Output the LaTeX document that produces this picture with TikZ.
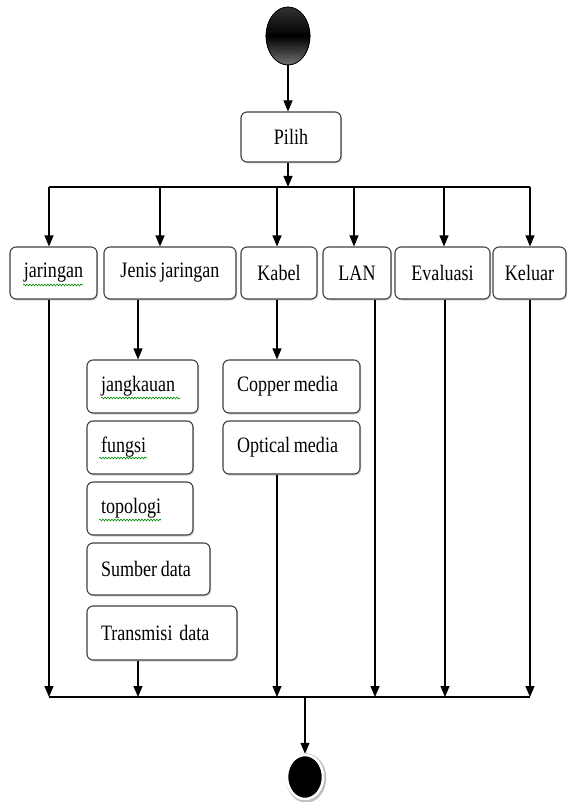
\documentclass[tikz,border=0pt]{standalone}
\usepackage{fontspec}
\setmainfont{Liberation Serif}[FakeStretch=0.82, WordSpace=0.85]
\usetikzlibrary{arrows.meta,shapes.geometric,shadows,decorations.pathmorphing}
\newcommand\lefttext[2]{\makebox[#1][l]{#2}}
\begin{document}
\begin{tikzpicture}[x=1pt,y=-1pt,
  font=\fontsize{22}{26}\selectfont,
  box/.style={draw=black!75, line width=1.1pt, rounded corners=6pt, fill=white,
    drop shadow={opacity=0.35, shadow xshift=1.2pt, shadow yshift=-1.5pt},
    inner sep=0pt, minimum height=52pt},
  lbox/.style={box, inner xsep=14pt},
  conn/.style={draw=black, line width=1.1pt},
  arr/.style={conn, -{Triangle[length=11pt,width=9pt]}},
  squig/.style={draw=green!55!black, line width=0.6pt,
    decorate, decoration={snake, amplitude=0.9pt, segment length=3pt}}]
\useasboundingbox (0,0) rectangle (570,802);

% start / end
\shade[top color=black!80, bottom color=black!55, middle color=black, draw=black, line width=0.6pt]
  (288,36) ellipse [x radius=22pt, y radius=29pt];
\node[ellipse, draw=black, line width=0.6pt, minimum width=44pt, minimum height=58pt] (start) at (288,36) {};
\node[ellipse, fill=black, draw=white, line width=2.5pt, minimum width=36pt, minimum height=44pt,
  drop shadow={fill=black!25, opacity=1, shadow xshift=1pt, shadow yshift=-1pt, shadow scale=1.12}] (end) at (305,777) {};

% main boxes
\node[box, minimum width=100pt, minimum height=50pt] (pilih) at (291,137) {Pilih};
\node[box, minimum width=87pt]  (jaringan) at (53.5,273) {jaringan};
\node[box, minimum width=132pt] (jenis)    at (170,273)  {Jenis jaringan};
\node[box, minimum width=76pt]  (kabel)    at (279,273)  {Kabel};
\node[box, minimum width=68pt]  (lan)      at (357,273)  {LAN};
\node[box, minimum width=95pt]  (eval)     at (442.5,273) {Evaluasi};
\node[box, minimum width=73pt]  (keluar)   at (529.5,273) {Keluar};

% sub boxes
\node[lbox, minimum height=53pt]  (jangk)  at (142.5,386.5) {\lefttext{83pt}{jangkauan}};
\node[lbox, minimum height=53pt]  (fungsi) at (140,447.5)   {\lefttext{78pt}{fungsi}};
\node[lbox, minimum height=53pt]  (topo)   at (140,508.5)   {\lefttext{78pt}{topologi}};
\node[lbox]                       (sumber) at (148.5,569)   {\lefttext{95pt}{Sumber data}};
\node[lbox, minimum height=54pt]  (trans)  at (162,633)     {\lefttext{122pt}{Transmisi\hspace{3pt} data}};
\node[lbox, minimum height=53pt]  (copper) at (291.5,386.5) {\lefttext{109pt}{Copper media}};
\node[lbox, minimum height=53pt]  (optical) at (291.5,447.5) {\lefttext{109pt}{Optical media}};

% spell-check squiggles
\draw[squig] (23,285) -- (83,285);
\draw[squig] (101,398) -- (180,398);
\draw[squig] (99,458) -- (147,458);
\draw[squig] (99,520) -- (161,520);

% fork coordinates
\coordinate (s0) at (288,187);
\coordinate (t1) at (49,187);
\coordinate (t2) at (160,187);
\coordinate (t3) at (277,187);
\coordinate (t4) at (354,187);
\coordinate (t5) at (444,187);
\coordinate (t6) at (530,187);
\coordinate (b1) at (49,697);
\coordinate (b2) at (138,697);
\coordinate (b3) at (277,697);
\coordinate (b4) at (375,697);
\coordinate (b5) at (445,697);
\coordinate (b6) at (530,697);
\coordinate (bm) at (305,697);

% top connectors
\draw[arr] (start.south) -- (start.south |- pilih.north);
\draw[arr] (start.south |- pilih.south) -- (s0);
\draw[conn] (t1) -- (t6);
\draw[arr] (t1) -- (t1 |- jaringan.north);
\draw[arr] (t2) -- (t2 |- jenis.north);
\draw[arr] (t3) -- (t3 |- kabel.north);
\draw[arr] (t4) -- (t4 |- lan.north);
\draw[arr] (t5) -- (t5 |- eval.north);
\draw[arr] (t6) -- (t6 |- keluar.north);

% middle connectors
\draw[arr] (b2 |- jenis.south) -- (b2 |- jangk.north);
\draw[arr] (b3 |- kabel.south) -- (b3 |- copper.north);

% bottom connectors
\draw[arr] (b1 |- jaringan.south) -- (b1);
\draw[arr] (b2 |- trans.south) -- (b2);
\draw[arr] (b3 |- optical.south) -- (b3);
\draw[arr] (b4 |- lan.south) -- (b4);
\draw[arr] (b5 |- eval.south) -- (b5);
\draw[arr] (b6 |- keluar.south) -- (b6);
\draw[conn] (b1) -- (b6);
\draw[arr] (bm) -- (end.north);
\end{tikzpicture}
\end{document}
